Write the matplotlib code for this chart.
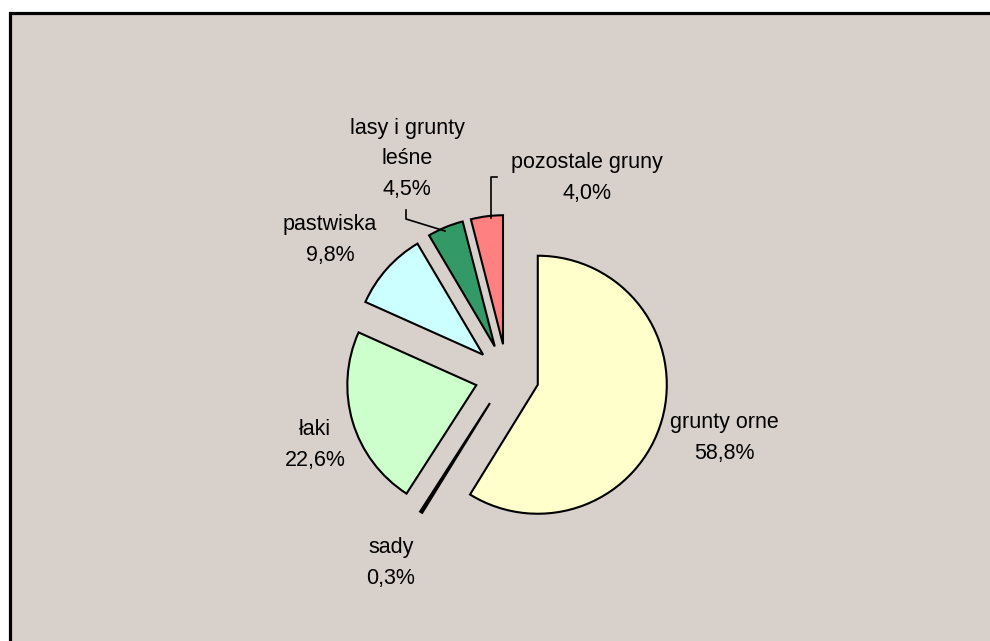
import matplotlib.pyplot as plt
from matplotlib.patches import Rectangle

# data
labels = ["grunty orne", "sady", "łaki", "pastwiska", "lasy i grunty\nleśne", "pozostale gruny"]
shares = [58.8, 0.3, 22.6, 9.8, 4.5, 4.0]
colors = ["#FFFFCC", "#000000", "#CCFFCC", "#CCFFFF", "#339966", "#FF8080"]

# label positions (pixels, y from top)
label_pos = [(724, 438), (391, 563), (315, 445), (330, 240), (407, 159), (587, 178)]

W, H = 990, 641
fig = plt.figure(figsize=(W / 100, H / 100), dpi=100)
fig.patch.set_facecolor("white")
ax = fig.add_axes([0, 0, 1, 1])
ax.set_xlim(0, W)
ax.set_ylim(0, H)

# chart area; frame only on left and top (the rest runs off the picture)
ax.add_patch(Rectangle((10, 0), W, H - 13, facecolor="#D8D0CB",
                       edgecolor="none", zorder=0))
ax.plot([10, 10, W], [0, H - 13, H - 13], color="black", lw=2.3,
        solid_joinstyle="miter", zorder=1)

# explode is in data units here (pixels)
ax.pie(shares, colors=colors, startangle=90, counterclock=False,
       explode=[32] * len(shares), center=(507, H - 376), radius=129,
       frame=True, wedgeprops=dict(edgecolor="black", linewidth=1.5))

for lab, val, (x, y) in zip(labels, shares, label_pos):
    txt = lab + "\n" + f"{val:.1f}".replace(".", ",") + "%"
    ax.text(x, H - y, txt, ha="center", va="center", fontsize=15.5,
            family="Liberation Sans", linespacing=1.6)

# leader lines
ax.plot([406, 406, 445], [H - 210, H - 219, H - 231], color="black", lw=1.2)
ax.plot([497, 491, 491], [H - 177, H - 177, H - 218], color="black", lw=1.2)

ax.set_xlim(0, W)
ax.set_ylim(0, H)
ax.set_aspect("auto")
ax.axis("off")

fig.savefig("out.png", dpi=100)
